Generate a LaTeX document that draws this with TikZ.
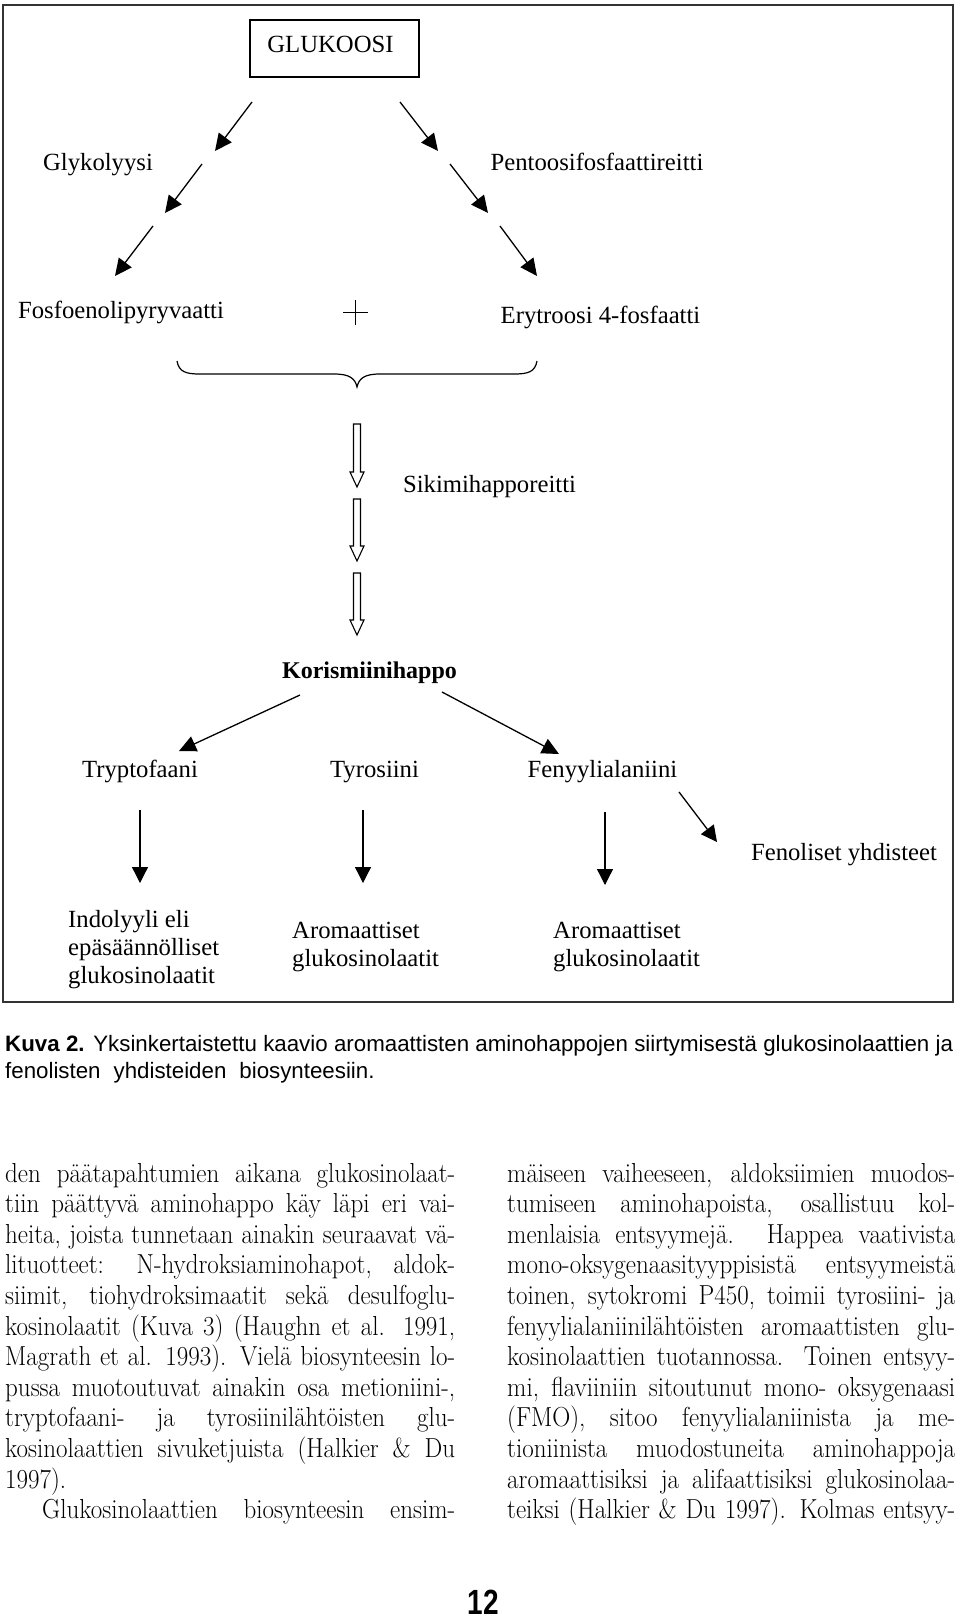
\documentclass[tikz,border=0pt]{standalone}
\usepackage{fontspec}
\usepackage{graphicx}
\usetikzlibrary{arrows.meta}
\newfontfamily\diagfont{Liberation Serif}
\newfontfamily\capfont{Liberation Sans}
\newcommand\bj[2]{\scalebox{1}[1.1]{\makebox[#1pt][s]{#2}}}
\begin{document}
\begin{tikzpicture}[x=1pt,y=-1pt,
  lab/.style={font=\diagfont\fontsize{24.7}{28}\selectfont, inner sep=0pt, anchor=base},
  labw/.style={font=\diagfont\fontsize{24.7}{28}\selectfont, inner sep=0pt, anchor=base west},
  arr/.style={line width=1.3pt, -{Triangle[length=17pt,width=16pt]}},
  darr/.style={line width=1.3pt, -{Triangle[length=16pt,width=16pt]}},
  hol/.style={line width=1.1pt, fill=white, line join=miter},
  body/.style={font=\rmfamily\fontsize{25}{30.6}\selectfont\addfontfeature{FakeBold=0.6}, inner sep=0pt, anchor=base west},
  captxt/.style={font=\capfont\fontsize{22.3}{26}\selectfont, inner sep=0pt, anchor=base west}]
\useasboundingbox[fill=white] (0,0) rectangle (960,1620);

% frame
\draw[line width=1.5pt, draw=black!80] (3,5) rectangle (953,1002);

% GLUKOOSI
\node[draw, line width=1.3pt, minimum width=169pt, minimum height=57pt, inner sep=0pt] (gluk) at (334.5,48.5) {};
\node[lab] (glukt) at (330.5,52) {GLUKOOSI};

\node[lab] (glyk) at (98,170) {Glykolyysi};
\node[lab] (pent) at (597,170) {Pentoosifosfaattireitti};
\node[lab] (fosf) at (121,318) {Fosfoenolipyryvaatti};
\node[lab] (eryt) at (600.5,323) {Erytroosi 4-fosfaatti};

% plus sign
\coordinate (plusc) at (355.5,312.5);
\draw[line width=1.1pt] ([xshift=-12.5pt]plusc) -- ([xshift=12.5pt]plusc);
\draw[line width=1.1pt] ([yshift=-12.5pt]plusc) -- ([yshift=12.5pt]plusc);

% top arrows
\coordinate (a1s) at (252,102); \coordinate (a1e) at (215,151);
\coordinate (a2s) at (202,164); \coordinate (a2e) at (165,213);
\coordinate (a3s) at (153,226); \coordinate (a3e) at (115,276);
\coordinate (b1s) at (400,102); \coordinate (b1e) at (438,151);
\coordinate (b2s) at (450,164); \coordinate (b2e) at (488,213);
\coordinate (b3s) at (500,226); \coordinate (b3e) at (537,276);
\draw[arr] (a1s) -- (a1e);
\draw[arr] (a2s) -- (a2e);
\draw[arr] (a3s) -- (a3e);
\draw[arr] (b1s) -- (b1e);
\draw[arr] (b2s) -- (b2e);
\draw[arr] (b3s) -- (b3e);

% brace
\draw[line width=1.2pt] (177,361) .. controls (179,372) and (186,374) .. (200,374)
  -- (334,374) .. controls (349,374) and (355,378) .. (357,387)
  .. controls (359,378) and (365,374) .. (380,374)
  -- (514,374) .. controls (528,374) and (535,372) .. (537,361);

% hollow arrows
\foreach \t/\p in {424/487, 499/561, 573/635}{
  \draw[hol] (353.5,\t) -- (360.5,\t) -- (360.5,\p-15) -- (364,\p-15) -- (357,\p)
    -- (350,\p-15) -- (353.5,\p-15) -- cycle;
}
\node[lab] (siki) at (489.5,492) {Sikimihapporeitti};

\node[lab, font=\diagfont\bfseries\fontsize{24}{28}\selectfont] (kori) at (369.5,678) {Korismiinihappo};

\node[lab] (tryp) at (140,777) {Tryptofaani};
\node[lab] (tyro) at (374.5,777) {Tyrosiini};
\node[lab] (feny) at (602.5,777) {Fenyylialaniini};
\node[lab] (feno) at (844,860) {Fenoliset yhdisteet};

\coordinate (k1s) at (300,695); \coordinate (k1e) at (179,751);
\coordinate (k2s) at (442,692); \coordinate (k2e) at (559,754);
\draw[arr] (k1s) -- (k1e);
\draw[arr] (k2s) -- (k2e);

\coordinate (d1s) at (140,810); \coordinate (d1e) at (140,883);
\coordinate (d2s) at (363,810); \coordinate (d2e) at (363,883);
\coordinate (d3s) at (605,812); \coordinate (d3e) at (605,885);
\coordinate (d4s) at (679,792); \coordinate (d4e) at (717,842);
\draw[darr] (d1s) -- (d1e);
\draw[darr] (d2s) -- (d2e);
\draw[darr] (d3s) -- (d3e);
\draw[darr] (d4s) -- (d4e);

\node[labw] (indo) at (68,927) {\begin{tabular}[t]{@{}l@{}}Indolyyli eli\\epäsäännölliset\\glukosinolaatit\end{tabular}};
\node[labw] (arom1) at (292,938) {\begin{tabular}[t]{@{}l@{}}Aromaattiset\\glukosinolaatit\end{tabular}};
\node[labw] (arom2) at (553,938) {\begin{tabular}[t]{@{}l@{}}Aromaattiset\\glukosinolaatit\end{tabular}};

% caption
\node[captxt] (cap1) at (5,1051.7) {\makebox[948pt][s]{\textbf{Kuva 2.} Yksinkertaistettu kaavio aromaattisten aminohappojen siirtymisestä glukosinolaattien ja}};
\node[captxt] (cap2) at (5,1078) {fenolisten\hspace{13pt}yhdisteiden\hspace{13pt}biosynteesiin.};

% body text left
\node[body] (l1) at (5,1182) {\bj{450}{den päätapahtumien aikana glukosinolaat-}};
\node[body] (l2) at (5,1212.6) {\bj{450}{tiin päättyvä aminohappo käy läpi eri vai-}};
\node[body] (l3) at (5,1243.2) {\bj{450}{heita, joista tunnetaan ainakin seuraavat vä-}};
\node[body] (l4) at (5,1273.8) {\bj{450}{lituotteet: N-hydroksiaminohapot, aldok-}};
\node[body] (l5) at (5,1304.4) {\bj{450}{siimit, tiohydroksimaatit sekä desulfoglu-}};
\node[body] (l6) at (5,1335) {\bj{450}{kosinolaatit (Kuva 3) (Haughn et al. 1991,}};
\node[body] (l7) at (5,1365.6) {\bj{450}{Magrath et al. 1993). Vielä biosynteesin lo-}};
\node[body] (l8) at (5,1396.2) {\bj{450}{pussa muotoutuvat ainakin osa metioniini-,}};
\node[body] (l9) at (5,1426.8) {\bj{450}{tryptofaani- ja tyrosiinilähtöisten glu-}};
\node[body] (l10) at (5,1457.4) {\bj{450}{kosinolaattien sivuketjuista (Halkier \& Du}};
\node[body] (l11) at (5,1488) {\scalebox{1}[1.1]{1997).}};
\node[body] (l12) at (42,1518.6) {\bj{413}{Glukosinolaattien biosynteesin ensim-}};

% body text right
\node[body] (r1) at (507,1182) {\bj{448}{mäiseen vaiheeseen, aldoksiimien muodos-}};
\node[body] (r2) at (507,1212.6) {\bj{448}{tumiseen aminohapoista, osallistuu kol-}};
\node[body] (r3) at (507,1243.2) {\bj{448}{menlaisia entsyymejä. Happea vaativista}};
\node[body] (r4) at (507,1273.8) {\bj{448}{mono-oksygenaasityyppisistä entsyymeistä}};
\node[body] (r5) at (507,1304.4) {\bj{448}{toinen, sytokromi P450, toimii tyrosiini- ja}};
\node[body] (r6) at (507,1335) {\bj{448}{fenyylialaniinilähtöisten aromaattisten glu-}};
\node[body] (r7) at (507,1365.6) {\bj{448}{kosinolaattien tuotannossa. Toinen entsyy-}};
\node[body] (r8) at (507,1396.2) {\bj{448}{mi, flaviiniin sitoutunut mono- oksygenaasi}};
\node[body] (r9) at (507,1426.8) {\bj{448}{(FMO), sitoo fenyylialaniinista ja me-}};
\node[body] (r10) at (507,1457.4) {\bj{448}{tioniinista muodostuneita aminohappoja}};
\node[body] (r11) at (507,1488) {\bj{448}{aromaattisiksi ja alifaattisiksi glukosinolaa-}};
\node[body] (r12) at (507,1518.6) {\bj{448}{teiksi (Halkier \& Du 1997). Kolmas entsyy-}};

% page number
\node[font=\capfont\bfseries\fontsize{35}{35}\selectfont, inner sep=0pt, anchor=base] (pg) at (483.5,1614) {\scalebox{0.8}[1]{12}};
\end{tikzpicture}
\end{document}
